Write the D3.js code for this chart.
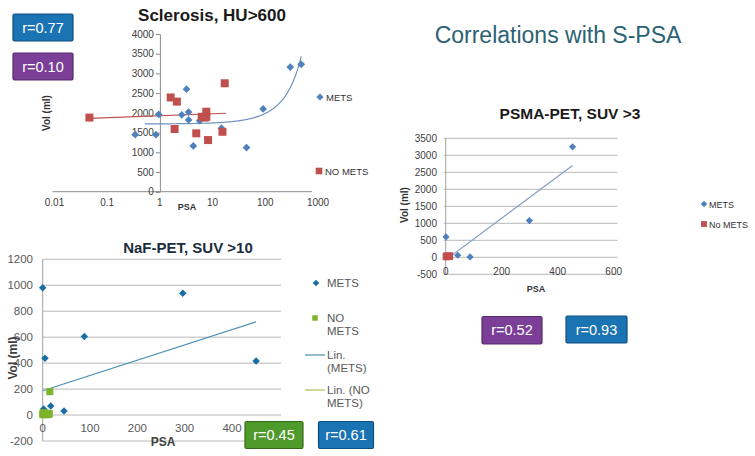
<!DOCTYPE html>
<html><head><meta charset="utf-8">
<script src="https://cdn.jsdelivr.net/npm/d3@7"></script>
<style>body{margin:0;background:#fff;}svg{display:block;font-family:"Liberation Sans",Arial,sans-serif;}</style>
</head><body><svg id="c" width="755" height="456"></svg>
<script>
// ---------- DATA ----------
// Chart 1: Sclerosis, HU>600 (log PSA)
const sclMetsPSA = [0.34, 0.84, 0.95, 3.2, 2.6, 3.5, 3.5, 4.3, 5.7, 14.7, 44, 91, 298, 480];
const sclMetsVol = [1450, 1445, 1960, 2600, 1950, 2020, 1820, 1160, 1800, 1610, 1120, 2100, 3160, 3230];
const sclNoPSA = [0.046, 1.6, 2.1, 1.9, 4.9, 6.2, 7.6, 7.6, 7.1, 8.2, 15.4, 17];
const sclNoVol = [1880, 2390, 2285, 1590, 1480, 1900, 2030, 1900, 1880, 1310, 1520, 2750];
const sclMetsTrend = {a: 1719, b: 0.00144, from: 0.52, to: 480}; // exponential fit
const sclNoTrendPSA = [0.046, 18];
const sclNoTrendVol = [1860, 1990];
const sclXTicks = [0.01, 0.1, 1, 10, 100, 1000];
const sclXLabels = ["0.01", "0.1", "1", "10", "100", "1000"];
const sclYTicks = [0, 500, 1000, 1500, 2000, 2500, 3000, 3500, 4000];

// Chart 2: NaF-PET, SUV >10
const nafMetsPSA = [0, 296, 88, 4.9, 451, 17, 45, 2, 1, 5, 8];
const nafMetsVol = [980, 938, 606, 437, 416, 69, 31, 46, 10, 5, 20];
const nafNoPSA = [0, 2, 3, 5, 7, 10, 12, 14, 15, 1, 9];
const nafNoVol = [5, 10, 2, 15, 8, 12, 5, 10, 180, 18, 3];
const nafMetsTrendPSA = [0, 451];
const nafMetsTrendVol = [187, 719];
const nafNoTrendPSA = [0, 15];
const nafNoTrendVol = [5, 40];
const nafXTicks = [0, 100, 200, 300, 400];
const nafYTicks = [-200, 0, 200, 400, 600, 800, 1000, 1200];

// Chart 3: PSMA-PET, SUV >3
const psmaMetsPSA = [1, 453, 299, 43, 87];
const psmaMetsVol = [600, 3250, 1080, 60, 10];
const psmaNoPSA = [1, 3, 6, 9, 12, 15, 2, 14];
const psmaNoVol = [10, 30, 20, 40, 15, 50, 45, 20];
const psmaTrendPSA = [1, 453];
const psmaTrendVol = [-70, 2700];
const psmaXTicks = [0, 200, 400, 600];
const psmaYTicks = [-500, 0, 500, 1000, 1500, 2000, 2500, 3000, 3500];

// Badges
const badgeLabels = ["r=0.77", "r=0.10", "r=0.45", "r=0.61", "r=0.52", "r=0.93"];
const badgeKinds = ["blue", "purple", "green", "blue", "purple", "blue"];

const pageTitle = "Correlations with S-PSA";

// ---------- DRAW ----------
const svg = d3.select("#c");
const zip = (a, b) => a.map((v, i) => [v, b[i]]);
const sq = (s) => d3.symbol().type(d3.symbolSquare).size(s)();
const dia = (s) => d3.symbol().type(d3.symbolSquare).size(s)(); // rotated 45deg when placed

svg.append("text").attr("x", 558).attr("y", 43).attr("text-anchor", "middle")
  .attr("font-size", 23).attr("fill", "#2b6274").text(pageTitle);

// ===== Chart 1 =====
{
  const g = svg.append("g");
  const x = d3.scaleLog().domain([0.01, 1000]).range([54.5, 318]);
  const y = d3.scaleLinear().domain([0, 4000]).range([191.7, 34]);
  g.append("text").attr("x", 212).attr("y", 21).attr("text-anchor", "middle")
    .attr("font-size", 17).attr("font-weight", "bold").attr("fill", "#1a1a1a").text("Sclerosis, HU>600");
  g.append("line").attr("x1", x(0.01) - 2).attr("x2", x(1000) - 6).attr("y1", y(0)).attr("y2", y(0))
    .attr("stroke", "#8c8c8c").attr("stroke-width", 1);
  const ya = g.append("g").attr("transform", `translate(${x(1)},0)`)
    .call(d3.axisLeft(y).tickValues(sclYTicks).tickFormat(d3.format("d")).tickSize(4).tickPadding(2));
  ya.select(".domain").attr("stroke", "#8c8c8c");
  ya.selectAll(".tick line").attr("stroke", "#8c8c8c");
  ya.selectAll(".tick text").attr("font-size", 10).attr("fill", "#404040").attr("font-family", "Liberation Sans, Arial");
  g.selectAll(".xl").data(sclXTicks).join("text").attr("class", "xl")
    .attr("x", (d) => x(d)).attr("y", 206).attr("text-anchor", "middle")
    .attr("font-size", 10).attr("fill", "#404040").text((d, i) => sclXLabels[i]);
  g.append("text").attr("x", 187).attr("y", 210).attr("text-anchor", "middle")
    .attr("font-size", 9).attr("font-weight", "bold").attr("fill", "#333").text("PSA");
  g.append("text").attr("transform", "translate(50,113) rotate(-90)").attr("text-anchor", "middle")
    .attr("font-size", 10).attr("font-weight", "bold").attr("fill", "#333").text("Vol (ml)");
  const t = sclMetsTrend;
  const tx = d3.range(0, 201).map((i) => Math.exp(Math.log(t.from) + (Math.log(t.to) - Math.log(t.from)) * i / 200));
  g.append("path").datum(tx.map((v) => [v, t.a * Math.exp(t.b * v)]))
    .attr("d", d3.line().x((d) => x(d[0])).y((d) => y(d[1])))
    .attr("fill", "none").attr("stroke", "#6f93bd").attr("stroke-width", 1.2);
  g.append("path").datum(zip(sclNoTrendPSA, sclNoTrendVol))
    .attr("d", d3.line().x((d) => x(d[0])).y((d) => y(d[1])))
    .attr("fill", "none").attr("stroke", "#c0504d").attr("stroke-width", 1.2);
  g.selectAll(".m").data(zip(sclMetsPSA, sclMetsVol)).join("path").attr("class", "m")
    .attr("transform", (d) => `translate(${x(d[0])},${y(d[1])}) rotate(45)`)
    .attr("d", dia(30)).attr("fill", "#4f81bd");
  g.selectAll(".n").data(zip(sclNoPSA, sclNoVol)).join("path").attr("class", "n")
    .attr("transform", (d) => `translate(${x(d[0])},${y(d[1])})`)
    .attr("d", sq(64)).attr("fill", "#c0504d");
  g.append("path").attr("transform", "translate(320,97) rotate(45)").attr("d", dia(26)).attr("fill", "#4f81bd");
  g.append("text").attr("x", 326).attr("y", 101).attr("font-size", 9.5).attr("fill", "#333").text("METS");
  g.append("path").attr("transform", "translate(319,171)").attr("d", sq(44)).attr("fill", "#c0504d");
  g.append("text").attr("x", 325).attr("y", 175).attr("font-size", 9.5).attr("fill", "#333").text("NO METS");
}

// ===== Chart 2 =====
{
  const g = svg.append("g");
  const x = d3.scaleLinear().domain([0, 500]).range([42.7, 279.3]);
  const y = d3.scaleLinear().domain([-200, 1200]).range([441, 259.3]);
  g.append("text").attr("x", 188).attr("y", 253).attr("text-anchor", "middle")
    .attr("font-size", 15).attr("font-weight", "bold").attr("fill", "#1d2d3c").text("NaF-PET, SUV >10");
  g.selectAll(".gr").data(nafYTicks).join("line").attr("class", "gr")
    .attr("x1", x(0)).attr("x2", 281).attr("y1", (d) => y(d)).attr("y2", (d) => y(d))
    .attr("stroke", "#b8b8b8").attr("stroke-width", 1);
  g.append("line").attr("x1", x(0)).attr("x2", x(0)).attr("y1", y(1200)).attr("y2", y(-200))
    .attr("stroke", "#a0a0a0");
  g.selectAll(".yl").data(nafYTicks).join("text").attr("class", "yl")
    .attr("x", 33).attr("y", (d) => y(d) + 4).attr("text-anchor", "end")
    .attr("font-size", 11.5).attr("fill", "#595959").text((d) => d);
  g.selectAll(".xl").data(nafXTicks).join("text").attr("class", "xl")
    .attr("x", (d) => x(d)).attr("y", 432).attr("text-anchor", "middle")
    .attr("font-size", 11.5).attr("fill", "#595959").text((d) => d);
  g.append("text").attr("x", 163).attr("y", 446).attr("text-anchor", "middle")
    .attr("font-size", 12).attr("font-weight", "bold").attr("fill", "#404040").text("PSA");
  g.append("text").attr("transform", "translate(17,358) rotate(-90)").attr("text-anchor", "middle")
    .attr("font-size", 12).attr("font-weight", "bold").attr("fill", "#404040").text("Vol (ml)");
  g.append("path").datum(zip(nafMetsTrendPSA, nafMetsTrendVol))
    .attr("d", d3.line().x((d) => x(d[0])).y((d) => y(d[1])))
    .attr("fill", "none").attr("stroke", "#4a8fb5").attr("stroke-width", 1.2);
  g.append("path").datum(zip(nafNoTrendPSA, nafNoTrendVol))
    .attr("d", d3.line().x((d) => x(d[0])).y((d) => y(d[1])))
    .attr("fill", "none").attr("stroke", "#a8c256").attr("stroke-width", 1.2);
  g.selectAll(".m").data(zip(nafMetsPSA, nafMetsVol)).join("path").attr("class", "m")
    .attr("transform", (d) => `translate(${x(d[0])},${y(d[1])}) rotate(45)`)
    .attr("d", dia(28)).attr("fill", "#1a6ea6");
  g.selectAll(".n").data(zip(nafNoPSA, nafNoVol)).join("path").attr("class", "n")
    .attr("transform", (d) => `translate(${x(d[0])},${y(d[1])})`)
    .attr("d", sq(50)).attr("fill", "#7cb52a");
  g.append("path").attr("transform", "translate(316,283) rotate(45)").attr("d", dia(22)).attr("fill", "#1a6ea6");
  g.append("text").attr("x", 327).attr("y", 287).attr("font-size", 11.5).attr("fill", "#595959").text("METS");
  g.append("path").attr("transform", "translate(315,318)").attr("d", sq(30)).attr("fill", "#7cb52a");
  g.append("text").attr("x", 327).attr("y", 322).attr("font-size", 11.5).attr("fill", "#595959").text("NO");
  g.append("text").attr("x", 327).attr("y", 335).attr("font-size", 11.5).attr("fill", "#595959").text("METS");
  g.append("line").attr("x1", 305).attr("x2", 325).attr("y1", 355).attr("y2", 355).attr("stroke", "#4a8fb5").attr("stroke-width", 1.2);
  g.append("text").attr("x", 327).attr("y", 359).attr("font-size", 11.5).attr("fill", "#595959").text("Lin.");
  g.append("text").attr("x", 327).attr("y", 372).attr("font-size", 11.5).attr("fill", "#595959").text("(METS)");
  g.append("line").attr("x1", 305).attr("x2", 325).attr("y1", 390).attr("y2", 390).attr("stroke", "#a8c256").attr("stroke-width", 1.2);
  g.append("text").attr("x", 327).attr("y", 394).attr("font-size", 11.5).attr("fill", "#595959").text("Lin. (NO");
  g.append("text").attr("x", 327).attr("y", 407).attr("font-size", 11.5).attr("fill", "#595959").text("METS)");
}

// ===== Chart 3 =====
{
  const g = svg.append("g");
  const x = d3.scaleLinear().domain([0, 600]).range([445.7, 613.7]);
  const y = d3.scaleLinear().domain([-500, 3500]).range([274.3, 138.3]);
  g.append("text").attr("x", 570).attr("y", 119).attr("text-anchor", "middle")
    .attr("font-size", 15.5).attr("font-weight", "bold").attr("fill", "#1a1a1a").text("PSMA-PET, SUV >3");
  g.selectAll(".gr").data(psmaYTicks).join("line").attr("class", "gr")
    .attr("x1", x(0) - 2).attr("x2", 617.5).attr("y1", (d) => y(d)).attr("y2", (d) => y(d))
    .attr("stroke", "#b8b8b8").attr("stroke-width", 1);
  g.append("line").attr("x1", x(0)).attr("x2", x(0)).attr("y1", y(3500)).attr("y2", y(-500))
    .attr("stroke", "#a0a0a0");
  g.selectAll(".yl").data(psmaYTicks).join("text").attr("class", "yl")
    .attr("x", 437).attr("y", (d) => y(d) + 3.5).attr("text-anchor", "end")
    .attr("font-size", 10).attr("fill", "#404040").text((d) => d);
  g.selectAll(".xl").data(psmaXTicks).join("text").attr("class", "xl")
    .attr("x", (d) => x(d)).attr("y", 275).attr("text-anchor", "middle")
    .attr("font-size", 10).attr("fill", "#404040").text((d) => d);
  g.append("text").attr("x", 536).attr("y", 292).attr("text-anchor", "middle")
    .attr("font-size", 9).attr("font-weight", "bold").attr("fill", "#333").text("PSA");
  g.append("text").attr("transform", "translate(408,205) rotate(-90)").attr("text-anchor", "middle")
    .attr("font-size", 10).attr("font-weight", "bold").attr("fill", "#333").text("Vol (ml)");
  g.append("path").datum(zip(psmaTrendPSA, psmaTrendVol))
    .attr("d", d3.line().x((d) => x(d[0])).y((d) => y(d[1])))
    .attr("fill", "none").attr("stroke", "#7f9fc4").attr("stroke-width", 1.1);
  g.selectAll(".m").data(zip(psmaMetsPSA, psmaMetsVol)).join("path").attr("class", "m")
    .attr("transform", (d) => `translate(${x(d[0])},${y(d[1])}) rotate(45)`)
    .attr("d", dia(26)).attr("fill", "#4f81bd");
  g.selectAll(".n").data(zip(psmaNoPSA, psmaNoVol)).join("path").attr("class", "n")
    .attr("transform", (d) => `translate(${x(d[0])},${y(d[1])})`)
    .attr("d", sq(44)).attr("fill", "#c0504d");
  g.append("path").attr("transform", "translate(704,204) rotate(45)").attr("d", dia(22)).attr("fill", "#4f81bd");
  g.append("text").attr("x", 709).attr("y", 208).attr("font-size", 9).attr("fill", "#333").text("METS");
  g.append("path").attr("transform", "translate(704,224)").attr("d", sq(34)).attr("fill", "#c0504d");
  g.append("text").attr("x", 709).attr("y", 228).attr("font-size", 9).attr("fill", "#333").text("No METS");
}

// ===== Badges =====
{
  const pos = [[13, 14, 60, 27], [13, 53, 60, 27], [245, 421.5, 58, 27], [318.5, 421.5, 55, 27], [482, 316.5, 60, 27.5], [566, 316, 61, 27]];
  const fills = {blue: "#1a73b2", purple: "#7b3f98", green: "#4e9b2c"};
  const strokes = {blue: "#0f4f7e", purple: "#552a6c", green: "#326b1a"};
  const b = svg.selectAll(".badge").data(badgeLabels).join("g").attr("class", "badge");
  b.append("rect").attr("x", (d, i) => pos[i][0]).attr("y", (d, i) => pos[i][1])
    .attr("width", (d, i) => pos[i][2]).attr("height", (d, i) => pos[i][3]).attr("rx", 1.5)
    .attr("fill", (d, i) => fills[badgeKinds[i]]).attr("stroke", (d, i) => strokes[badgeKinds[i]]).attr("stroke-width", 1.2);
  b.append("text").attr("x", (d, i) => pos[i][0] + pos[i][2] / 2).attr("y", (d, i) => pos[i][1] + pos[i][3] / 2 + 5)
    .attr("text-anchor", "middle").attr("font-size", 14.5).attr("fill", "#fff").text((d) => d);
}
</script></body></html>
